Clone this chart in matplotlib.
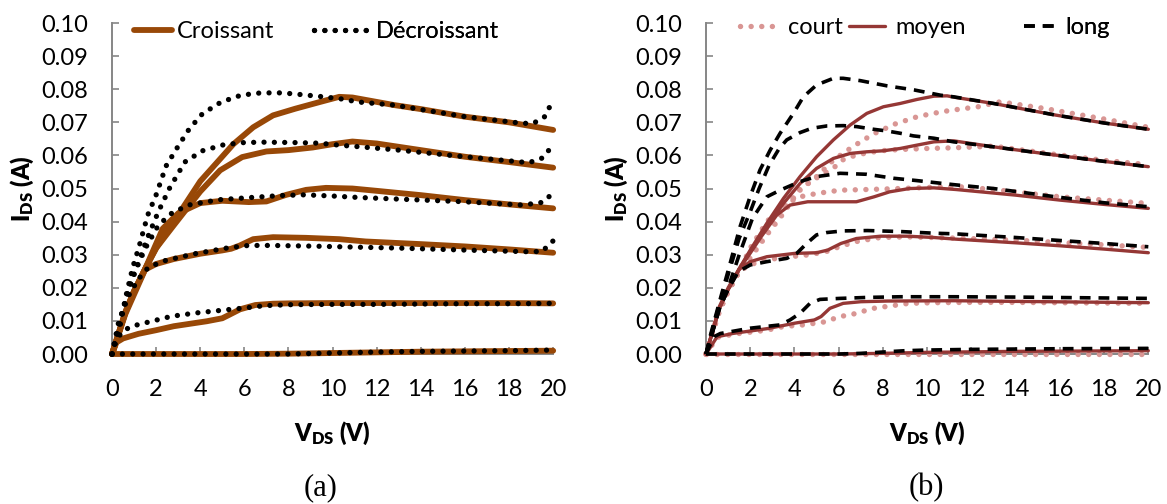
import matplotlib
matplotlib.use('Agg')
import matplotlib.pyplot as plt
from matplotlib.lines import Line2D
from matplotlib.ticker import MultipleLocator, FormatStrFormatter

plt.rcParams['font.family'] = ['Lato', 'DejaVu Sans']
plt.rcParams['mathtext.fontset'] = 'custom'
plt.rcParams['mathtext.rm'] = 'Lato'
plt.rcParams['mathtext.bf'] = 'Lato:heavy'

# ---- (a) balayage croissant / décroissant : V_DS (V) et I_DS (A), une courbe par V_GS
croissant_v = [
    [0, 6, 8, 10, 12, 14, 16, 18, 20],
    [0, 0.2, 0.5, 1.2, 2.0, 2.8, 3.5, 4.3, 5.0, 5.3, 5.8, 6.5, 7.3, 8.0, 10, 12, 14, 16, 18, 20],
    [0, 0.6, 1.0, 1.5, 2.0, 2.8, 4.0, 5.0, 5.4, 5.8, 6.4, 7.3, 8.8, 10.3, 11.5, 14, 16, 18, 20],
    [0, 0.6, 1.0, 1.5, 2.3, 3.0, 4.0, 5.0, 6.2, 7.0, 7.9, 8.8, 9.7, 10.9, 12, 14, 16, 18, 20],
    [0, 0.6, 1.0, 1.5, 2.0, 2.8, 4.0, 4.9, 5.9, 7.0, 8.0, 9.1, 10.0, 10.9, 12, 14, 16, 18, 20],
    [0, 0.6, 1.0, 1.5, 2.0, 2.8, 4.0, 5.5, 6.4, 7.3, 8.3, 9.4, 10.3, 10.9, 12.8, 14, 16, 18, 20],
]
croissant_i = [
    [0, 0, 0.0001, 0.0003, 0.0005, 0.0007, 0.0008, 0.0009, 0.001],
    [0, 0.0035, 0.0047, 0.0061, 0.0072, 0.0084, 0.0091, 0.0099, 0.0108, 0.0118, 0.0135, 0.0148,
     0.0152, 0.0153, 0.0154, 0.0154, 0.0154, 0.0154, 0.0154, 0.0153],
    [0, 0.012, 0.018, 0.0255, 0.0272, 0.0287, 0.0303, 0.0313, 0.0318, 0.0328, 0.0347, 0.0353,
     0.0351, 0.0347, 0.034, 0.0332, 0.0325, 0.0316, 0.0306],
    [0, 0.0125, 0.019, 0.0257, 0.0379, 0.0425, 0.0456, 0.0463, 0.0459, 0.0461, 0.0481, 0.0496,
     0.0502, 0.05, 0.0493, 0.048, 0.0465, 0.0452, 0.044],
    [0, 0.0125, 0.019, 0.0257, 0.032, 0.0389, 0.0491, 0.0555, 0.0595, 0.0612, 0.0616, 0.0624,
     0.0634, 0.0642, 0.0636, 0.0616, 0.0596, 0.058, 0.0563],
    [0, 0.0125, 0.019, 0.0257, 0.032, 0.040, 0.0522, 0.0634, 0.0685, 0.0721, 0.0741, 0.0761,
     0.0777, 0.0775, 0.0752, 0.074, 0.0717, 0.07, 0.0677],
]
decroissant_v = [
    [0, 8, 10, 12, 14, 16, 18, 20],
    [0, 0.15, 0.45, 0.9, 1.8, 2.7, 3.8, 5.1, 6.0, 6.9, 8.0, 10, 12, 14, 16, 18, 20],
    [0, 0.29, 0.74, 1.19, 1.65, 2.4, 3.76, 5.28, 6.18, 7.24, 9.06, 11.0, 13, 16, 18.9, 19.5, 20],
    [0, 0.44, 0.89, 1.5, 2.1, 2.7, 3.46, 4.82, 6.33, 7.7, 8.75, 10.1, 11.17, 13, 16, 18.6, 19.5, 20],
    [0, 0.6, 1.1, 1.6, 2.1, 2.6, 3.3, 4.1, 5.05, 6.0, 6.9, 8.15, 9.4, 10.3, 11.25, 13, 16, 18.9,
     19.5, 20],
    [0, 0.33, 0.63, 0.94, 1.24, 1.62, 2.0, 2.45, 2.98, 3.5, 4.1, 4.94, 5.85, 6.75, 7.73, 8.7, 9.6,
     10.6, 11.06, 12.8, 16, 18.6, 19.1, 19.6, 20],
]
decroissant_i = [
    [0, 0, 0.0003, 0.0006, 0.0008, 0.0009, 0.001, 0.0012],
    [0, 0.0033, 0.0068, 0.0084, 0.0099, 0.0114, 0.0124, 0.0133, 0.0139, 0.0146, 0.0149, 0.015,
     0.015, 0.0151, 0.0152, 0.0152, 0.0153],
    [0, 0.0094, 0.0175, 0.0226, 0.0262, 0.0282, 0.0303, 0.0321, 0.0328, 0.0328, 0.0326, 0.0323,
     0.032, 0.0314, 0.0309, 0.031, 0.0342],
    [0, 0.0124, 0.0226, 0.0318, 0.0389, 0.0425, 0.045, 0.0466, 0.0473, 0.0479, 0.0481, 0.0477,
     0.0473, 0.0468, 0.046, 0.045, 0.0458, 0.0486],
    [0, 0.016, 0.026, 0.035, 0.043, 0.050, 0.058, 0.0614, 0.0632, 0.0639, 0.064, 0.0639, 0.0637,
     0.0631, 0.0626, 0.0616, 0.0596, 0.0578, 0.0592, 0.0631],
    [0, 0.0073, 0.0175, 0.0262, 0.0328, 0.042, 0.0481, 0.0568, 0.0626, 0.068, 0.0726, 0.0761,
     0.0782, 0.0789, 0.0789, 0.0783, 0.0777, 0.0769, 0.0762, 0.0752, 0.0717, 0.0697, 0.0697,
     0.0716, 0.0767],
]

# ---- (b) longueur : court / moyen / long
court_v = [
    [0, 5, 10, 15, 20],
    [0, 0.5, 1.24, 2.75, 3.5, 4.4, 4.93, 5.46, 6.0, 6.52, 7.04, 7.57, 8.1, 8.63, 9.16, 10.3, 12,
     14, 16, 18, 20],
    [0, 0.6, 1.0, 1.5, 2.0, 2.75, 3.95, 4.7, 5.46, 6.06, 6.82, 7.87, 9.08, 10.3, 11.34, 14, 16,
     18, 20],
    [0, 0.6, 1.0, 1.5, 2.0, 2.75, 3.5, 4.25, 5.0, 6.06, 7.27, 8.78, 10.3, 11.34, 13, 16, 18, 20],
    [0, 0.6, 1.0, 1.5, 2.0, 2.75, 3.5, 4.25, 5.0, 5.76, 6.2, 6.82, 7.87, 8.78, 10.0, 11.2, 13,
     15.8, 18, 20],
    [0, 0.6, 1.0, 1.5, 2.0, 2.75, 3.5, 4.25, 5.0, 5.76, 6.67, 7.57, 8.55, 9.6, 10.66, 11.16,
     12.3, 13.3, 14.3, 15.3, 16.3, 18, 20],
]
court_i = [
    [0, 0, 0, 0, 0],
    [0, 0.005, 0.006, 0.0072, 0.0083, 0.0088, 0.0093, 0.0098, 0.0113, 0.0118, 0.0128, 0.0138,
     0.0143, 0.0148, 0.0153, 0.0155, 0.0156, 0.0156, 0.0155, 0.0154, 0.0153],
    [0, 0.013, 0.019, 0.025, 0.027, 0.0285, 0.0295, 0.030, 0.031, 0.0325, 0.034, 0.0352, 0.0354,
     0.0352, 0.035, 0.0344, 0.0337, 0.033, 0.0322],
    [0, 0.013, 0.019, 0.025, 0.032, 0.040, 0.045, 0.0475, 0.0485, 0.0495, 0.0497, 0.050, 0.0504,
     0.0506, 0.0497, 0.0475, 0.0465, 0.0455],
    [0, 0.013, 0.019, 0.025, 0.029, 0.036, 0.0425, 0.050, 0.0532, 0.0562, 0.0587, 0.0602,
     0.0614, 0.0618, 0.0621, 0.0623, 0.0628, 0.0603, 0.0585, 0.0572],
    [0, 0.013, 0.019, 0.025, 0.03, 0.037, 0.044, 0.0495, 0.0536, 0.0586, 0.0628, 0.0665, 0.0695,
     0.0718, 0.0732, 0.0737, 0.0747, 0.0762, 0.0752, 0.0742, 0.073, 0.071, 0.0685],
]
moyen_v = [
    [0, 6, 8, 10, 14, 20],
    [0, 0.5, 1.2, 2.8, 4.0, 4.9, 5.2, 5.6, 6.2, 7.0, 8.2, 11.2, 14, 17, 20],
    [0, 0.6, 1.0, 1.5, 2.0, 2.75, 4.0, 5.0, 5.5, 6.1, 6.8, 7.9, 9.1, 10.3, 11.3, 14, 16, 18, 20],
    [0, 0.6, 1.0, 1.5, 2.0, 2.5, 3.2, 3.8, 4.6, 5.8, 6.8, 7.6, 8.3, 9.2, 10.3, 11.3, 14, 16, 18,
     20],
    [0, 0.6, 1.0, 1.5, 2.0, 2.75, 3.5, 4.25, 5.0, 5.76, 6.52, 7.27, 8.02, 8.78, 9.53, 10.3,
     11.2, 13, 15.8, 18, 20],
    [0, 0.6, 1.0, 1.5, 2.0, 2.75, 3.5, 4.25, 5.0, 5.76, 6.52, 7.27, 8.02, 8.78, 9.53, 10.3,
     10.9, 11.3, 13, 15.8, 18, 20],
]
moyen_i = [
    [0, 0, 0.0002, 0.0005, 0.0008, 0.001],
    [0, 0.0052, 0.0062, 0.0077, 0.0093, 0.0103, 0.0113, 0.0138, 0.0153, 0.0158, 0.016, 0.0161,
     0.0159, 0.0157, 0.0155],
    [0, 0.0138, 0.0195, 0.0256, 0.0279, 0.0294, 0.0304, 0.0306, 0.0314, 0.0334, 0.0349, 0.0356,
     0.0356, 0.0352, 0.0347, 0.0336, 0.0327, 0.0317, 0.0306],
    [0, 0.0138, 0.0195, 0.0256, 0.0305, 0.0355, 0.042, 0.045, 0.046, 0.046, 0.046, 0.0475,
     0.049, 0.05, 0.0502, 0.0497, 0.048, 0.0465, 0.0452, 0.044],
    [0, 0.0138, 0.0195, 0.0256, 0.031, 0.0385, 0.0455, 0.0515, 0.0561, 0.0591, 0.0606, 0.0611,
     0.0614, 0.0621, 0.0631, 0.0641, 0.0644, 0.0626, 0.0601, 0.0582, 0.0566],
    [0, 0.0143, 0.02, 0.0258, 0.0314, 0.0395, 0.047, 0.0536, 0.0596, 0.0647, 0.0692, 0.0727,
     0.0747, 0.0757, 0.0769, 0.0779, 0.078, 0.0775, 0.0757, 0.0722, 0.0698, 0.0679],
]
long_v = [
    [0, 6, 7, 8, 9, 10, 12, 16, 20],
    [0, 0.35, 0.65, 2.0, 3.35, 3.8, 4.25, 4.7, 5.15, 6.05, 7.3, 8.8, 11.2, 14, 17, 20],
    [0, 0.6, 1.0, 1.46, 2.0, 2.75, 3.65, 4.1, 4.55, 5.0, 5.46, 6.2, 7.3, 8.8, 10.3, 11.3, 14, 16,
     18, 20],
    [0, 0.6, 1.0, 1.5, 2.1, 2.75, 3.35, 4.25, 5.0, 6.06, 7.27, 8.48, 9.53, 10.6, 11.3, 13, 15.8,
     18, 20],
    [0, 0.6, 1.0, 1.5, 2.0, 2.4, 2.85, 3.3, 3.65, 4.25, 4.78, 5.46, 6.21, 6.82, 7.57, 8.17, 8.78,
     9.38, 10.3, 11.2, 13, 15.8, 18, 20],
    [0, 0.18, 0.63, 1.09, 1.54, 1.99, 2.44, 2.9, 3.35, 3.95, 4.4, 5.0, 5.76, 6.2, 6.97, 8.2, 9.4,
     10.6, 11.2, 13, 15.8, 18, 20],
]
long_i = [
    [0, 0, 0.0002, 0.0006, 0.001, 0.0012, 0.0014, 0.0016, 0.0017],
    [0, 0.0052, 0.0062, 0.0078, 0.0088, 0.0103, 0.0123, 0.0153, 0.0165, 0.0168, 0.0171, 0.0173,
     0.0173, 0.0172, 0.017, 0.0168],
    [0, 0.0138, 0.0195, 0.0249, 0.0269, 0.0279, 0.0289, 0.0304, 0.0334, 0.036, 0.0367, 0.0372,
     0.0373, 0.037, 0.0365, 0.0363, 0.0352, 0.0343, 0.0334, 0.0324],
    [0, 0.0135, 0.02, 0.030, 0.041, 0.0475, 0.0495, 0.0521, 0.0536, 0.0546, 0.0543, 0.0531,
     0.0524, 0.0516, 0.0511, 0.050, 0.0475, 0.0457, 0.0445],
    [0, 0.015, 0.024, 0.035, 0.043, 0.050, 0.057, 0.062, 0.0647, 0.0669, 0.0682, 0.0689, 0.069,
     0.0687, 0.0679, 0.0674, 0.0667, 0.0659, 0.0652, 0.0641, 0.0626, 0.0601, 0.0582, 0.0566],
    [0, 0.0052, 0.0163, 0.0274, 0.0385, 0.0475, 0.0556, 0.0616, 0.0667, 0.0727, 0.0777, 0.0813,
     0.0833, 0.0833, 0.0826, 0.081, 0.0798, 0.0782, 0.0777, 0.0757, 0.0722, 0.0698, 0.0679],
]

BROWN = '#984807'
PINK = '#D99694'
DARKRED = '#953735'
GRAY = '#868686'

sty_cr = dict(color=BROWN, lw=4.2, solid_capstyle='round')
sty_de = dict(color='black', lw=3.8, ls=(0, (0.01, 1.95)), dash_capstyle='round')
sty_co = dict(color=PINK, lw=3.9, ls=(0, (0.01, 1.95)), dash_capstyle='round')
sty_mo = dict(color=DARKRED, lw=2.4, solid_capstyle='round')
sty_lo = dict(color='black', lw=2.6, ls=(0, (3.0, 2.2)), dash_capstyle='butt')

fig = plt.figure(figsize=(11.67, 5.04), dpi=100)
ax1 = fig.add_axes([0.096, 0.2976, 0.378, 0.6567])
ax2 = fig.add_axes([0.605, 0.2976, 0.379, 0.6567])


def style_axes(ax):
    ax.set_xlim(0, 20)
    ax.set_ylim(0, 0.1)
    ax.xaxis.set_major_locator(MultipleLocator(2))
    ax.yaxis.set_major_locator(MultipleLocator(0.01))
    ax.yaxis.set_major_formatter(FormatStrFormatter('%.2f'))
    for s in ['top', 'right']:
        ax.spines[s].set_visible(False)
    for s in ['left', 'bottom']:
        ax.spines[s].set_color(GRAY)
        ax.spines[s].set_linewidth(1.4)
    ax.tick_params(direction='in', length=5, width=1.2, color=GRAY, labelsize=17)
    ax.tick_params(axis='y', pad=17)
    ax.tick_params(axis='x', pad=18)
    ax.set_xlabel(r'$\mathbf{V_{DS}}$ (V)', fontsize=17, fontweight='heavy')
    ax.set_ylabel(r'$\mathbf{I_{DS}}$ (A)', fontsize=17, fontweight='heavy')
    ax.xaxis.set_label_coords(0.5, -0.2)
    ax.yaxis.set_label_coords(-0.172, 0.5)


def put_key(ax, style, label, x, y, hlen, pad):
    h = Line2D([], [], **style)
    lg = ax.legend([h], [label], loc='center left', bbox_to_anchor=(x, y), frameon=False,
                   handlelength=hlen, handletextpad=pad, borderpad=0, borderaxespad=0,
                   fontsize=17)
    ax.add_artist(lg)


# panel (a)
for v, i in zip(croissant_v, croissant_i):
    ax1.plot(v, i, clip_on=False, zorder=3, **sty_cr)
for v, i in zip(decroissant_v, decroissant_i):
    ax1.plot(v, i, clip_on=False, zorder=4, **sty_de)
style_axes(ax1)
put_key(ax1, sty_cr, 'Croissant', 0.05, 0.973, 1.6, 0.2)
put_key(ax1, sty_de, 'Décroissant', 0.458, 0.973, 2.5, 0.1)

# panel (b)
for v, i in zip(court_v, court_i):
    ax2.plot(v, i, clip_on=False, zorder=3, **sty_co)
for v, i in zip(moyen_v, moyen_i):
    ax2.plot(v, i, clip_on=False, zorder=4, **sty_mo)
for v, i in zip(long_v, long_i):
    ax2.plot(v, i, clip_on=False, zorder=5, **sty_lo)
style_axes(ax2)
put_key(ax2, sty_co, 'court', 0.077, 0.985, 1.6, 0.45)
put_key(ax2, sty_mo, 'moyen', 0.324, 0.985, 1.5, 0.45)
put_key(ax2, sty_lo, 'long', 0.719, 0.985, 1.5, 0.25)

fig.text(321 / 1167, 1 - 488 / 504, '(a)', family='Liberation Serif', fontsize=22,
         ha='center', va='center')
fig.text(926 / 1167, 1 - 488 / 504, '(b)', family='Liberation Serif', fontsize=22,
         ha='center', va='center')

fig.savefig('out.png', dpi=100, facecolor='white')
